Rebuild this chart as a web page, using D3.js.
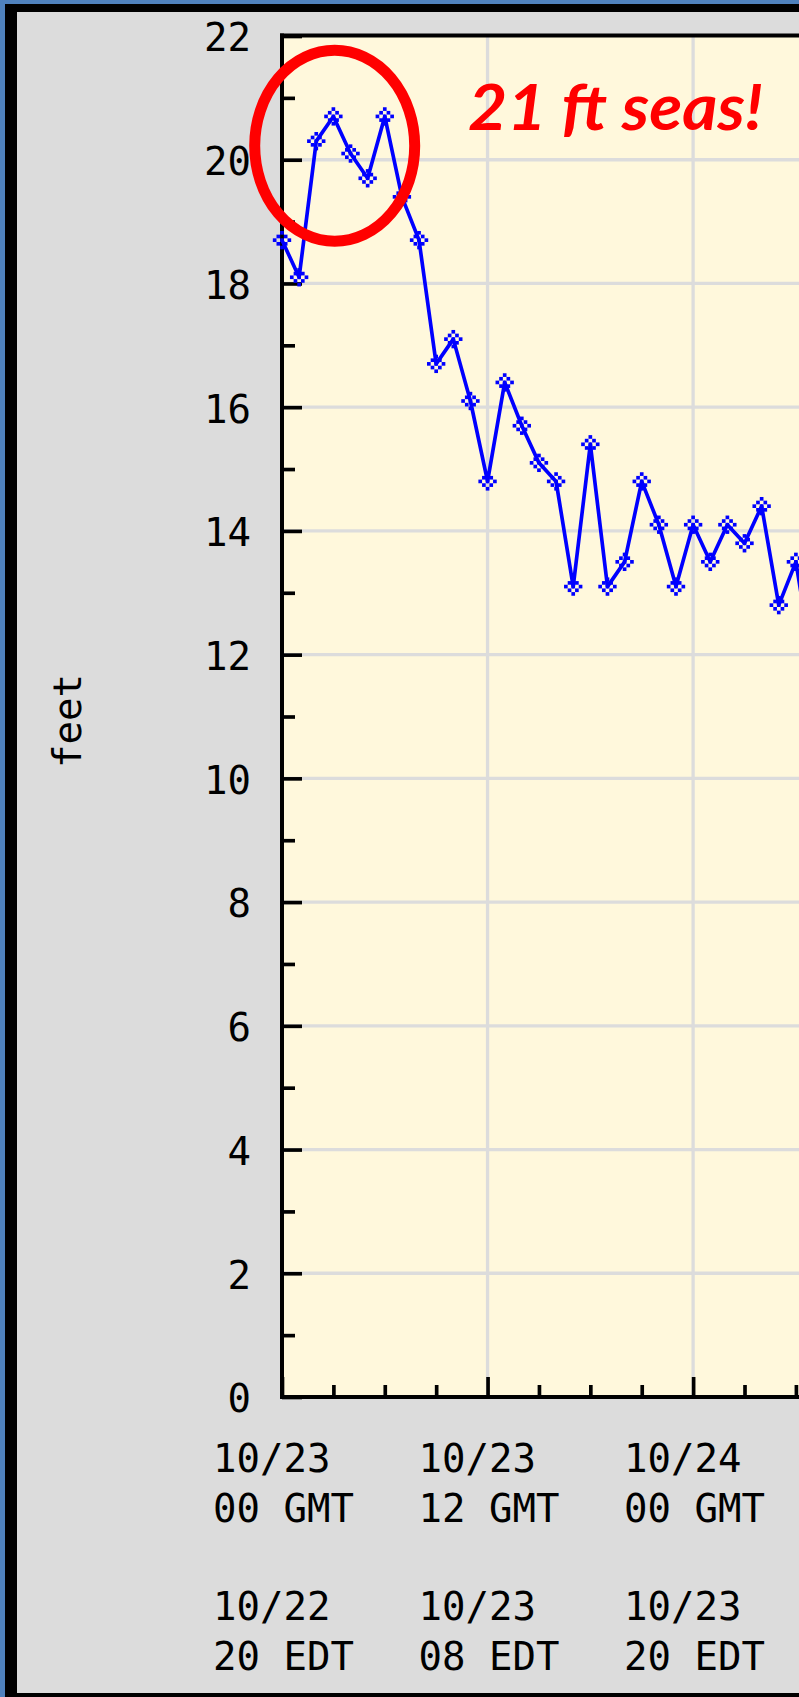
<!DOCTYPE html>
<html>
<head>
<meta charset="utf-8">
<script src="https://cdn.jsdelivr.net/npm/d3@7"></script>
<style>
  html, body { margin: 0; padding: 0; background: #dcdcdc; }
  svg { display: block; }
</style>
</head>
<body>
<div id="chart"></div>
<script>
// wave height (feet), one reading per hour starting 10/23 00 GMT
let hours = [0, 1, 2, 3, 4, 5, 6, 7, 8, 9, 10, 11, 12, 13, 14, 15,
             16, 17, 18, 19, 20, 21, 22, 23, 24, 25, 26, 27, 28, 29, 30, 31];
let wave_ft = [18.7, 18.1, 20.3, 20.7, 20.1, 19.7, 20.7, 19.4, 18.7, 16.7, 17.1, 16.1, 14.8, 16.4, 15.7, 15.1,
               14.8, 13.1, 15.4, 13.1, 13.5, 14.8, 14.1, 13.1, 14.1, 13.5, 14.1, 13.8, 14.4, 12.8, 13.5, 11.8];

let y_major = [0, 2, 4, 6, 8, 10, 12, 14, 16, 18, 20, 22];
let y_minor = [1, 3, 5, 7, 9, 11, 13, 15, 17, 19, 21];
let x_major = [0, 12, 24, 36, 48];
let x_minor = [3, 6, 9, 15, 18, 21, 27, 30, 33, 39, 42, 45];

let gmt_dates = ["10/23", "10/23", "10/24"];
let gmt_hours = ["00 GMT", "12 GMT", "00 GMT"];
let edt_dates = ["10/22", "10/23", "10/23"];
let edt_hours = ["20 EDT", "08 EDT", "20 EDT"];

let note_text = "21 ft seas!";

const width = 799, height = 1697;
const mono = "'DejaVu Sans Mono', 'Liberation Mono', monospace";
const px = 3.67;   // size of one "pixel" of the old chart

let x = d3.scaleLinear().domain([0, 48]).range([282, 282 + 48 * 17.13]);
let y = d3.scaleLinear().domain([0, 22]).range([1397, 36]);

let svg = d3.select("#chart").append("svg")
    .attr("width", width).attr("height", height);

// slide frame
svg.append("rect").attr("width", width).attr("height", height).attr("fill", "#4f81bd");
svg.append("rect").attr("x", 5).attr("y", 4).attr("width", width).attr("height", height - 4).attr("fill", "#000");
svg.append("rect").attr("x", 17).attr("y", 12).attr("width", width).attr("height", 1681).attr("fill", "#dcdcdc");

// plot background
svg.append("rect")
    .attr("x", x(0)).attr("y", y(22))
    .attr("width", x(48) - x(0)).attr("height", y(0) - y(22))
    .attr("fill", "#fff8dc");

// grid
svg.append("g")
   .selectAll("line")
   .data(y_major.filter(d => d > 0 && d < 22))
   .join("line")
   .attr("x1", x(0)).attr("x2", x(48))
   .attr("y1", d => y(d)).attr("y2", d => y(d))
   .attr("stroke", "#dcdcdc").attr("stroke-width", 3.3);

svg.append("g")
   .selectAll("line")
   .data(x_major.filter(d => d > 0))
   .join("line")
   .attr("x1", d => x(d)).attr("x2", d => x(d))
   .attr("y1", y(22)).attr("y2", y(0))
   .attr("stroke", "#dcdcdc").attr("stroke-width", 3.3);

// y axis
function style_axis(g) {
    g.select(".domain").remove();
    g.attr("font-family", mono).attr("font-size", 39);
    g.selectAll(".tick line").attr("stroke-width", px);
    g.selectAll(".tick text").attr("fill", "#000").attr("dy", "0.38em");
}

svg.append("g")
   .attr("transform", `translate(${x(0)},0)`)
   .call(d3.axisLeft(y).tickValues(y_major).tickSize(-20).tickPadding(31))
   .call(style_axis);

svg.append("g")
   .attr("transform", `translate(${x(0)},0)`)
   .call(d3.axisLeft(y).tickValues(y_minor).tickSize(-13).tickFormat(""))
   .call(style_axis);

// x axis
svg.append("g")
   .attr("transform", `translate(0,${y(0)})`)
   .call(d3.axisBottom(x).tickValues(x_major).tickSize(-20).tickFormat(""))
   .call(style_axis);

svg.append("g")
   .attr("transform", `translate(0,${y(0)})`)
   .call(d3.axisBottom(x).tickValues(x_minor).tickSize(-12).tickFormat(""))
   .call(style_axis);

// x labels, two time zones, left aligned under each major tick
let label_rows = [gmt_dates, gmt_hours, edt_dates, edt_hours];
let row_y = [1472, 1522, 1620, 1670];
label_rows.forEach((row, r) => {
    svg.append("g")
       .selectAll("text")
       .data(row)
       .join("text")
       .attr("x", (d, i) => x(x_major[i]) - 69)
       .attr("y", row_y[r])
       .attr("font-family", mono)
       .attr("font-size", 39)
       .attr("fill", "#000")
       .text(d => d);
});

// axis title
svg.append("text")
   .attr("transform", "translate(81,721) rotate(-90)")
   .attr("text-anchor", "middle")
   .attr("font-family", mono)
   .attr("font-size", 39)
   .attr("fill", "#000")
   .text("feet");

// plot border (left, top, bottom)
let border = svg.append("g").attr("stroke", "#000").attr("stroke-width", 4);
border.append("line").attr("x1", x(0)).attr("x2", x(0)).attr("y1", y(22) - 2.5).attr("y2", y(0) + 2);
border.append("line").attr("x1", x(0) - 2).attr("x2", x(48)).attr("y1", y(22) - 0.5).attr("y2", y(22) - 0.5);
border.append("line").attr("x1", x(0) - 2).attr("x2", x(48)).attr("y1", y(0)).attr("y2", y(0));

// data line
let line = d3.line()
    .x(i => x(hours[i]))
    .y(i => y(wave_ft[i]));

svg.append("path")
   .datum(d3.range(hours.length))
   .attr("d", line)
   .attr("fill", "none")
   .attr("stroke", "#0000ff")
   .attr("stroke-width", px)
   .attr("stroke-linejoin", "round");

// diamond markers drawn as little pixel blocks
let marker_cells = [[0, -2], [-1, -1], [1, -1], [-2, 0], [0, 0], [2, 0], [-1, 1], [1, 1], [0, 2]];
svg.append("g")
   .selectAll("g")
   .data(d3.range(hours.length))
   .join("g")
   .attr("transform", i => `translate(${x(hours[i])},${y(wave_ft[i])})`)
   .selectAll("rect")
   .data(marker_cells)
   .join("rect")
   .attr("x", c => c[0] * px - px / 2)
   .attr("y", c => c[1] * px - px / 2)
   .attr("width", px)
   .attr("height", px)
   .attr("fill", "#0000ff");

// annotation
svg.append("ellipse")
   .attr("cx", 334.7).attr("cy", 145.8)
   .attr("rx", 80).attr("ry", 95.5)
   .attr("fill", "none")
   .attr("stroke", "#ff0000")
   .attr("stroke-width", 11);

svg.append("text")
   .attr("x", 468).attr("y", 130)
   .attr("font-family", "Lato, 'Open Sans', sans-serif")
   .attr("font-weight", 700)
   .attr("font-style", "italic")
   .attr("font-size", 64)
   .attr("textLength", 295)
   .attr("lengthAdjust", "spacingAndGlyphs")
   .attr("fill", "#ff0000")
   .text(note_text);
</script>
</body>
</html>
